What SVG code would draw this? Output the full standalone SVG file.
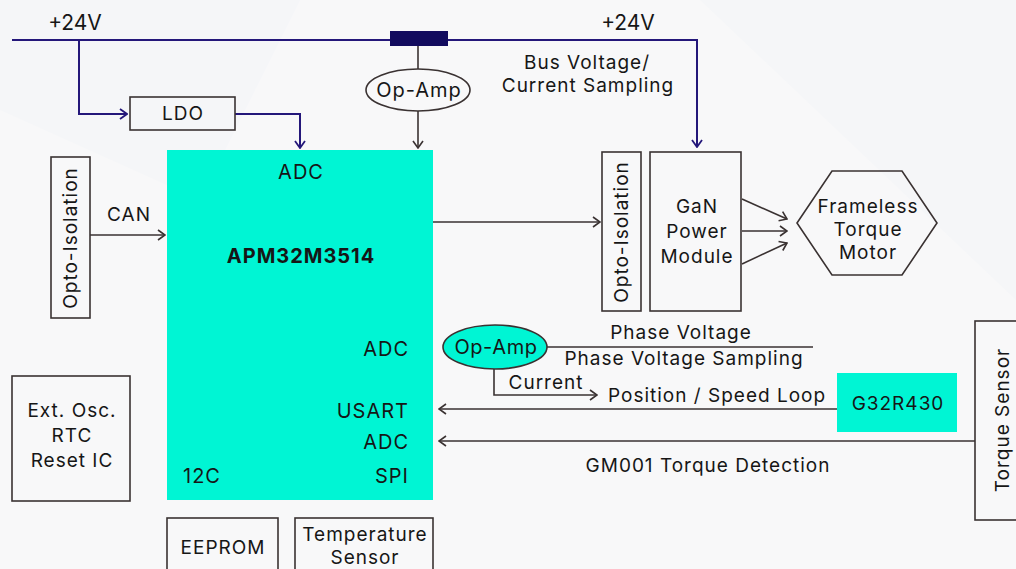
<svg xmlns="http://www.w3.org/2000/svg" width="1016" height="569" viewBox="0 0 1016 569">
<style>
text{font-family:Inter,"Liberation Sans",sans-serif;fill:#161616;}
.t{font-size:19px;letter-spacing:1px;}
.b{fill:none;stroke:#3a3232;stroke-width:1.6;}
.cy{fill:#00f5d4;}
.ln{fill:none;stroke:#3a3232;stroke-width:1.6;}
.nv{fill:none;stroke:#24177a;stroke-width:2;}
</style>
<defs>
<marker id="ah" markerWidth="10" markerHeight="12" refX="9" refY="6" orient="auto" markerUnits="userSpaceOnUse"><path d="M2,1 L9,6 L2,11" fill="none" stroke="#3a3232" stroke-width="1.6"/></marker>
<marker id="an" markerWidth="10" markerHeight="12" refX="9" refY="6" orient="auto" markerUnits="userSpaceOnUse"><path d="M2,1 L9,6 L2,11" fill="none" stroke="#24177a" stroke-width="1.8"/></marker>
</defs>
<rect width="1016" height="569" fill="#f5f6f8"/>
<polygon points="0,110 0,569 1016,569 1016,300 700,0 300,0 200,200" fill="#f8f8f9"/>
<g id="connectors">
<path class="nv" d="M12,40 H697 V147" marker-end="url(#an)"/>
<path class="nv" d="M79,40 V114 H127" marker-end="url(#an)"/>
<path class="nv" d="M235,114 H300 V148" marker-end="url(#an)"/>
<path class="ln" d="M418,46 V69"/>
<path class="ln" d="M418,111 V148" marker-end="url(#ah)"/>
<path class="ln" d="M90,235 H165" marker-end="url(#ah)"/>
<path class="ln" d="M433,222 H600" marker-end="url(#ah)"/>
<path class="ln" d="M742,199 L787,219" marker-end="url(#ah)"/>
<path class="ln" d="M742,231 L787,231" marker-end="url(#ah)"/>
<path class="ln" d="M742,264 L787,243" marker-end="url(#ah)"/>
<path class="ln" d="M547,347 H813"/>
<path class="ln" d="M494,369 V395 H597" marker-end="url(#ah)"/>
<path class="ln" d="M837,409 H439" marker-end="url(#ah)"/>
<path class="ln" d="M975,441 H439" marker-end="url(#ah)"/>
</g>
<rect x="390" y="31" width="58" height="15" fill="#120b5e"/>
<text class="t" x="75" y="30" text-anchor="middle" style="font-size:21px;letter-spacing:0">+24V</text>
<text class="t" x="628" y="30" text-anchor="middle" style="font-size:21px;letter-spacing:0">+24V</text>
<text class="t" x="587" y="69" text-anchor="middle">Bus Voltage/</text>
<text class="t" x="588" y="92" text-anchor="middle">Current Sampling</text>
<text class="t" x="129" y="221" text-anchor="middle">CAN</text>
<text class="t" x="681" y="339" text-anchor="middle">Phase Voltage</text>
<text class="t" x="684" y="365" text-anchor="middle">Phase Voltage Sampling</text>
<text class="t" x="546" y="389" text-anchor="middle">Current</text>
<text class="t" x="608" y="402">Position / Speed Loop</text>
<text class="t" x="708" y="472" text-anchor="middle">GM001 Torque Detection</text>
<g id="ldo"><rect class="b" x="130" y="97" width="105" height="33"/><text class="t" x="183" y="120" text-anchor="middle">LDO</text></g>
<g id="opamp1"><ellipse class="b" cx="418" cy="90" rx="52" ry="21" fill="#f8f8f9"/><text class="t" x="419" y="97" text-anchor="middle" style="font-size:20px">Op-Amp</text></g>
<g id="mcu"><rect class="cy" x="167" y="150" width="266" height="350"/>
<text class="t" x="301" y="179" text-anchor="middle" style="font-size:20px">ADC</text>
<text class="t" x="301" y="263" text-anchor="middle" style="font-size:20px;font-weight:700">APM32M3514</text>
<text class="t" x="409" y="356" text-anchor="end" style="font-size:20px">ADC</text>
<text class="t" x="409" y="418" text-anchor="end" style="font-size:20px">USART</text>
<text class="t" x="409" y="449" text-anchor="end" style="font-size:20px">ADC</text>
<text class="t" x="409" y="483" text-anchor="end" style="font-size:20px">SPI</text>
<text class="t" x="183" y="483" style="font-size:20px">12C</text></g>
<g id="opto1"><rect class="b" x="51" y="157" width="39" height="161"/><text class="t" transform="translate(77,238) rotate(-90)" text-anchor="middle">Opto-Isolation</text></g>
<g id="opto2"><rect class="b" x="602" y="152" width="39" height="159"/><text class="t" transform="translate(628,232) rotate(-90)" text-anchor="middle">Opto-Isolation</text></g>
<g id="gan"><rect class="b" x="650" y="152" width="91" height="159"/>
<text class="t" x="697" y="213" text-anchor="middle">GaN</text>
<text class="t" x="697" y="238" text-anchor="middle">Power</text>
<text class="t" x="697" y="263" text-anchor="middle">Module</text></g>
<g id="motor"><polygon class="b" points="797,223 832,171 902,171 937,223 902,275 832,275"/>
<text class="t" x="868" y="213" text-anchor="middle">Frameless</text>
<text class="t" x="868" y="236" text-anchor="middle">Torque</text>
<text class="t" x="868" y="259" text-anchor="middle">Motor</text></g>
<g id="opamp2"><ellipse class="b" cx="495" cy="347" rx="52" ry="22" style="fill:#00f5d4"/><text class="t" x="496" y="354" text-anchor="middle" style="font-size:20px;letter-spacing:0.6px">Op-Amp</text></g>
<g id="g32"><rect class="cy" x="837" y="373" width="120" height="59"/><text class="t" x="898" y="410" text-anchor="middle">G32R430</text></g>
<g id="torque"><rect class="b" x="975" y="321" width="50" height="199"/><text class="t" transform="translate(1009,420) rotate(-90)" text-anchor="middle">Torque Sensor</text></g>
<g id="osc"><rect class="b" x="12" y="376" width="118" height="125"/>
<text class="t" x="72" y="417" text-anchor="middle">Ext. Osc.</text>
<text class="t" x="72" y="442" text-anchor="middle">RTC</text>
<text class="t" x="72" y="467" text-anchor="middle">Reset IC</text></g>
<g id="eeprom"><rect class="b" x="167" y="518" width="111" height="60"/><text class="t" x="223" y="554" text-anchor="middle">EEPROM</text></g>
<g id="temp"><rect class="b" x="295" y="518" width="138" height="60"/>
<text class="t" x="365" y="541" text-anchor="middle">Temperature</text>
<text class="t" x="365" y="564" text-anchor="middle">Sensor</text></g>
</svg>
